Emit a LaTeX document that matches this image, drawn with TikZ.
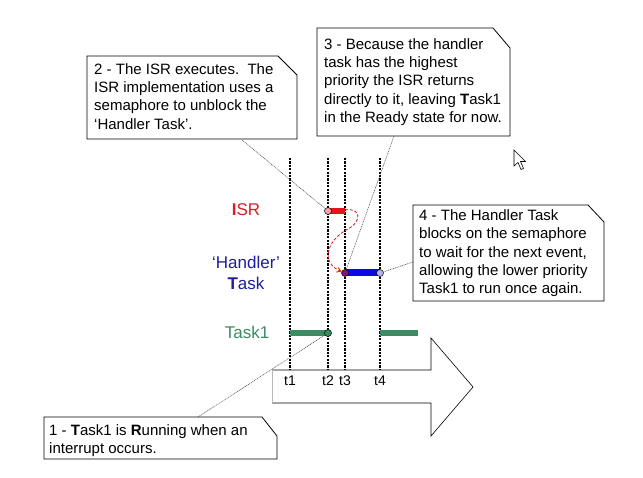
\documentclass[tikz,border=0pt]{standalone}
\usepackage{fontspec}
\setmainfont{Liberation Sans}
\usetikzlibrary{arrows.meta}
\definecolor{isrred}{HTML}{E3151C}
\definecolor{isrtext}{HTML}{D82028}
\definecolor{hblue}{HTML}{0A0AE0}
\definecolor{htext}{HTML}{1E1E9E}
\definecolor{tgreen}{HTML}{3A8C62}
\begin{document}
\begin{tikzpicture}[x=1pt,y=-1pt,
  timeline/.style={line width=2pt, dash pattern=on 2.2pt off 1.2pt, black},
  bar/.style={line width=6pt},
  endpt/.style={circle, draw=black, line width=0.5pt, inner sep=0pt, minimum size=7pt},
  pointer/.style={draw=black!75, line width=0.5pt, dash pattern=on 1pt off 0.8pt},
  note/.style={draw=black, line width=0.8pt, fill=white},
  notetext/.style={anchor=north west, inner sep=0pt, align=left, font=\fontsize{15}{18.3}\selectfont},
  lbl/.style={inner sep=0pt, font=\fontsize{17}{20}\selectfont},
  tlbl/.style={anchor=base, inner sep=0pt, font=\fontsize{14}{16}\selectfont}]
\useasboundingbox (0,0) rectangle (643,478);
\fill[white] (0,0) rectangle (643,478);

% big time arrow
\draw[line width=0.6pt] (272,370) -- (431,370) -- (431,338) -- (473,387) -- (431,436) -- (431,403) -- (272,403);
\draw[gray!55, line width=0.8pt] (272,370) -- (272,403);

% time lines
\foreach \x/\n in {290/1,328/2,345/3,380/4}{
  \draw[timeline] (\x,158) -- (\x,370);
  \node[tlbl] (tl\n) at (\x,386) {t\n};
}

% row labels
\node[lbl, text=isrtext] (lisr) at (246,210) {{\bfseries I}SR};
\node[lbl, text=htext] (lh1) at (246,262) {‘Handler’};
\node[lbl, text=htext] (lh2) at (246,283) {{\bfseries T}ask};
\node[lbl, text=tgreen] (lt1) at (247,332) {Task1};

% bars
\draw[bar, isrred] (328,211) -- (345,211);
\draw[bar, hblue, line width=7pt] (345,273) -- (380,273);
\draw[bar, tgreen] (290,333) -- (328,333);
\draw[bar, tgreen] (380,333) -- (418,333);

% end points
\node[endpt, fill=isrred!40!white] (isrS) at (328,211) {};
\node[endpt, fill=isrred!60!hblue] (hS) at (345,273) {};
\node[endpt, fill=hblue!30!white] (hE) at (380,273) {};
\node[endpt, fill=tgreen] (t1E) at (328,333) {};

% ISR return path
\draw[isrred, line width=0.8pt, dash pattern=on 3pt off 1.8pt, -{Straight Barb[length=4pt,width=5pt]}]
  (345,210) .. controls (361,207) and (363,222) .. (346,230)
  .. controls (326,242) and (321,263) .. (hS);

% note 2
\draw[note] (87,56) -- (278,56) -- (297,75) -- (297,139) -- (87,139) -- cycle;
\node[notetext] (n2) at (94,61.2) {\strut 2 - The ISR executes.\ \ The\\ISR implementation uses a\\semaphore to unblock the\\‘Handler Task’.};
\coordinate (p2) at (242,140);
\draw[pointer] (p2) -- (isrS);

% note 3
\draw[note] (317,28) -- (493,28) -- (510,48) -- (510,136) -- (317,136) -- cycle;
\node[notetext] (n3) at (324,36.2) {\strut 3 - Because the handler\\task has the highest\\priority the ISR returns\\directly to it, leaving {\bfseries T}ask1\\in the Ready state for now.};
\coordinate (p3) at (394,136);
\draw[pointer] (p3) -- (hS);

% note 4
\draw[note] (413,205) -- (588,205) -- (604,222) -- (604,301) -- (413,301) -- cycle;
\node[notetext] (n4) at (419,207.5) {\strut 4 - The Handler Task\\blocks on the semaphore\\to wait for the next event,\\allowing the lower priority\\Task1 to run once again.};
\coordinate (p4) at (413,262);
\draw[pointer] (p4) -- (hE);

% note 1
\draw[note] (44,417) -- (262,417) -- (277,436) -- (277,459) -- (44,459) -- cycle;
\node[notetext] (n1) at (49,422.2) {\strut 1 - {\bfseries T}ask1 is {\bfseries R}unning when an\\interrupt occurs.};
\coordinate (p1) at (198,417);
\draw[pointer] (p1) -- (t1E);

% mouse cursor
\draw[fill=white, line width=0.6pt, line join=miter]
  (514,150) -- (514,166) -- (518,162.5) -- (521,169.5) -- (523.5,168.5) -- (520.5,161.5) -- (525.5,161.5) -- cycle;
\end{tikzpicture}
\end{document}
